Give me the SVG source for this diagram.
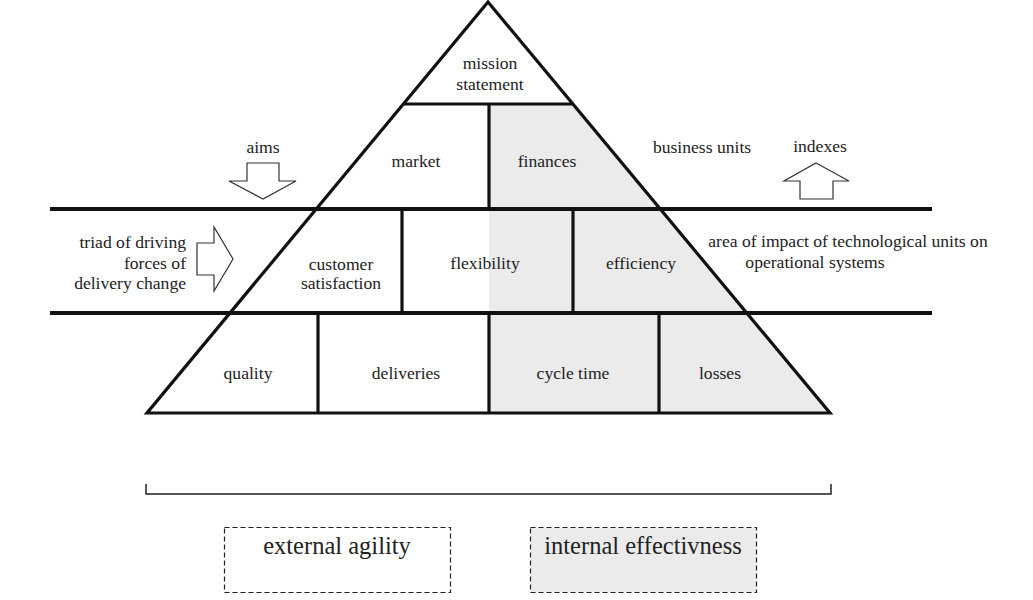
<svg xmlns="http://www.w3.org/2000/svg" width="1033" height="600" viewBox="0 0 1033 600">
<style>
text{font-family:"Liberation Serif","Times New Roman",serif;font-size:17.6px;fill:#222;text-anchor:middle}
.big{font-size:24.5px}
.ln{stroke:#111;stroke-width:3.2;fill:none}
.hl{stroke:#111;stroke-width:4;fill:none}
.ar{stroke:#333;stroke-width:1.2;fill:#fff}
.dash{stroke:#222;stroke-width:1.2;stroke-dasharray:5,3}
</style>
<rect width="1033" height="600" fill="#fff"/>
<g id="shading">
<polygon points="489,104 572.6,104 830,413 489,413" fill="#ebebeb"/>
</g>
<g id="connectors">
<polygon class="ln" points="488,2 830,413 147,413" stroke-linejoin="miter"/>
<line class="ln" x1="403" y1="104" x2="573" y2="104"/>
<line class="hl" x1="50" y1="209" x2="932" y2="209"/>
<line class="hl" x1="50" y1="313" x2="932" y2="313"/>
<line class="ln" x1="489" y1="104" x2="489" y2="209"/>
<line class="ln" x1="402" y1="209" x2="402" y2="313"/>
<line class="ln" x1="573" y1="209" x2="573" y2="313"/>
<line class="ln" x1="318" y1="313" x2="318" y2="413"/>
<line class="ln" x1="489" y1="313" x2="489" y2="413"/>
<line class="ln" x1="659" y1="313" x2="659" y2="413"/>
<polyline points="146,484 146,494 831,494 831,484" fill="none" stroke="#222" stroke-width="1.5"/>
</g>
<g id="aims-arrow">
<polygon class="ar" points="247,163 279,163 279,181 296,181 263,199 229,181 247,181"/>
<text x="263" y="153">aims</text>
</g>
<g id="indexes-arrow">
<polygon class="ar" points="816,163 849,181 833,181 833,199 800,199 800,181 784,181"/>
<text x="820" y="152">indexes</text>
</g>
<g id="triad-arrow">
<polygon class="ar" points="197,243 214,243 214,227 233,259 214,291 214,275 197,275"/>
<text x="186" y="248" style="text-anchor:end">triad of driving</text>
<text x="186" y="269" style="text-anchor:end">forces of</text>
<text x="186" y="289" style="text-anchor:end">delivery change</text>
</g>
<g id="mission"><text x="490" y="69">mission</text><text x="490" y="90">statement</text></g>
<g id="market"><text x="416" y="167">market</text></g>
<g id="finances"><text x="547" y="167">finances</text></g>
<g id="business-units"><text x="702" y="153">business units</text></g>
<g id="customer"><text x="341" y="270">customer</text><text x="341" y="289">satisfaction</text></g>
<g id="flexibility"><text x="485" y="269">flexibility</text></g>
<g id="efficiency"><text x="641" y="269">efficiency</text></g>
<g id="area"><text x="848" y="247">area of impact of technological units on</text><text x="815" y="268">operational systems</text></g>
<g id="quality"><text x="248" y="379">quality</text></g>
<g id="deliveries"><text x="406" y="379">deliveries</text></g>
<g id="cycle-time"><text x="573" y="379">cycle time</text></g>
<g id="losses"><text x="720" y="379">losses</text></g>
<g id="external-agility">
<rect class="dash" x="224.5" y="527.5" width="226" height="65" fill="#fff"/>
<text class="big" x="337" y="554">external agility</text>
</g>
<g id="internal-effectiveness">
<rect class="dash" x="530.5" y="527.5" width="226" height="65" fill="#ebebeb"/>
<text class="big" x="643" y="554">internal effectivness</text>
</g>
</svg>
